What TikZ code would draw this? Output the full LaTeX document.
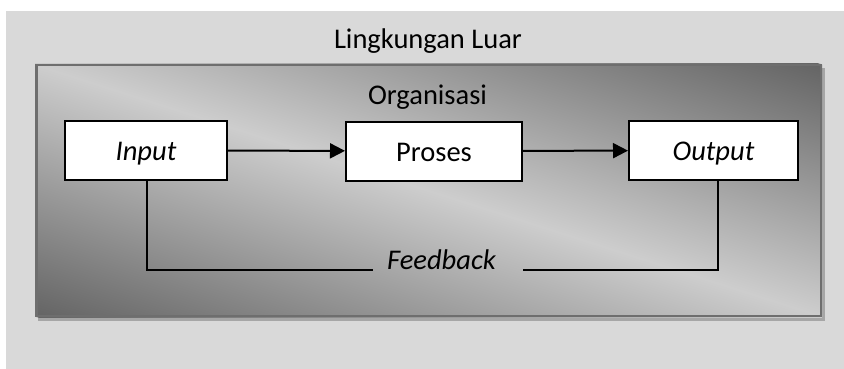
\documentclass[tikz,border=0pt]{standalone}
\usepackage{fontspec}
\setmainfont{Carlito}
\usetikzlibrary{arrows.meta}
\definecolor{luar}{HTML}{D9D9D9}
\definecolor{bayang}{HTML}{A6A6A6}
\definecolor{tepi}{HTML}{6E6E6E}
\definecolor{gelap}{HTML}{646464}
\definecolor{terang}{HTML}{CDCDCD}
\begin{document}
\begin{tikzpicture}[x=1pt,y=-1pt,
                    every node/.style={font=\fontsize{28.5}{34}\selectfont},
                    main node/.style={draw,fill=white,line width=2pt,minimum height=59pt,inner sep=0pt,
                                      text height=20pt,text depth=0pt},
                    flow/.style={line width=2pt,-{Triangle[length=15pt,width=15pt]}},
                    fb line/.style={line width=2pt}]
        \useasboundingbox (0,0) rectangle (844,369);

        % Lingkungan luar
        \fill[luar] (6,11) rectangle (844,369);
        \node[anchor=base] (luar) at (428,49) {Lingkungan Luar};

        % Organisasi
        \fill[bayang] (38,68) rectangle (825,321);
        \begin{scope}
            \clip (35,64) rectangle (822,317);
            \begin{scope}[transform canvas={shift={(428.5,190.5)},rotate=-17.75}]
                \shade[top color=gelap,bottom color=gelap,middle color=terang] (-540,-240) rectangle (540,240);
            \end{scope}
        \end{scope}
        \draw[tepi,line width=2.5pt] (36.25,65.25) rectangle (820.75,315.75);
        \node[anchor=base] (org) at (427.5,105) {Organisasi};

        % Define boxes
        \node[main node,minimum width=162pt] (input) at (146,150.5) {\itshape Input};
        \node[main node,minimum width=176pt] (proses) at (434,151) {Proses};
        \node[main node,minimum width=169pt] (output) at (713.5,150.5) {\itshape Output};

        % Arrows
        \draw[flow] (input) -- (proses);
        \draw[flow] (proses) -- (output);

        % Feedback
        \coordinate (fbl) at (373,270);
        \coordinate (fbr) at (523,270);
        \node[anchor=base] (fb) at (441.5,269) {\itshape Feedback};
        \draw[fb line] (input.south -| 147,0) |- (fbl);
        \draw[fb line] (fbr) -| (output.south -| 718,0);
\end{tikzpicture}
\end{document}
